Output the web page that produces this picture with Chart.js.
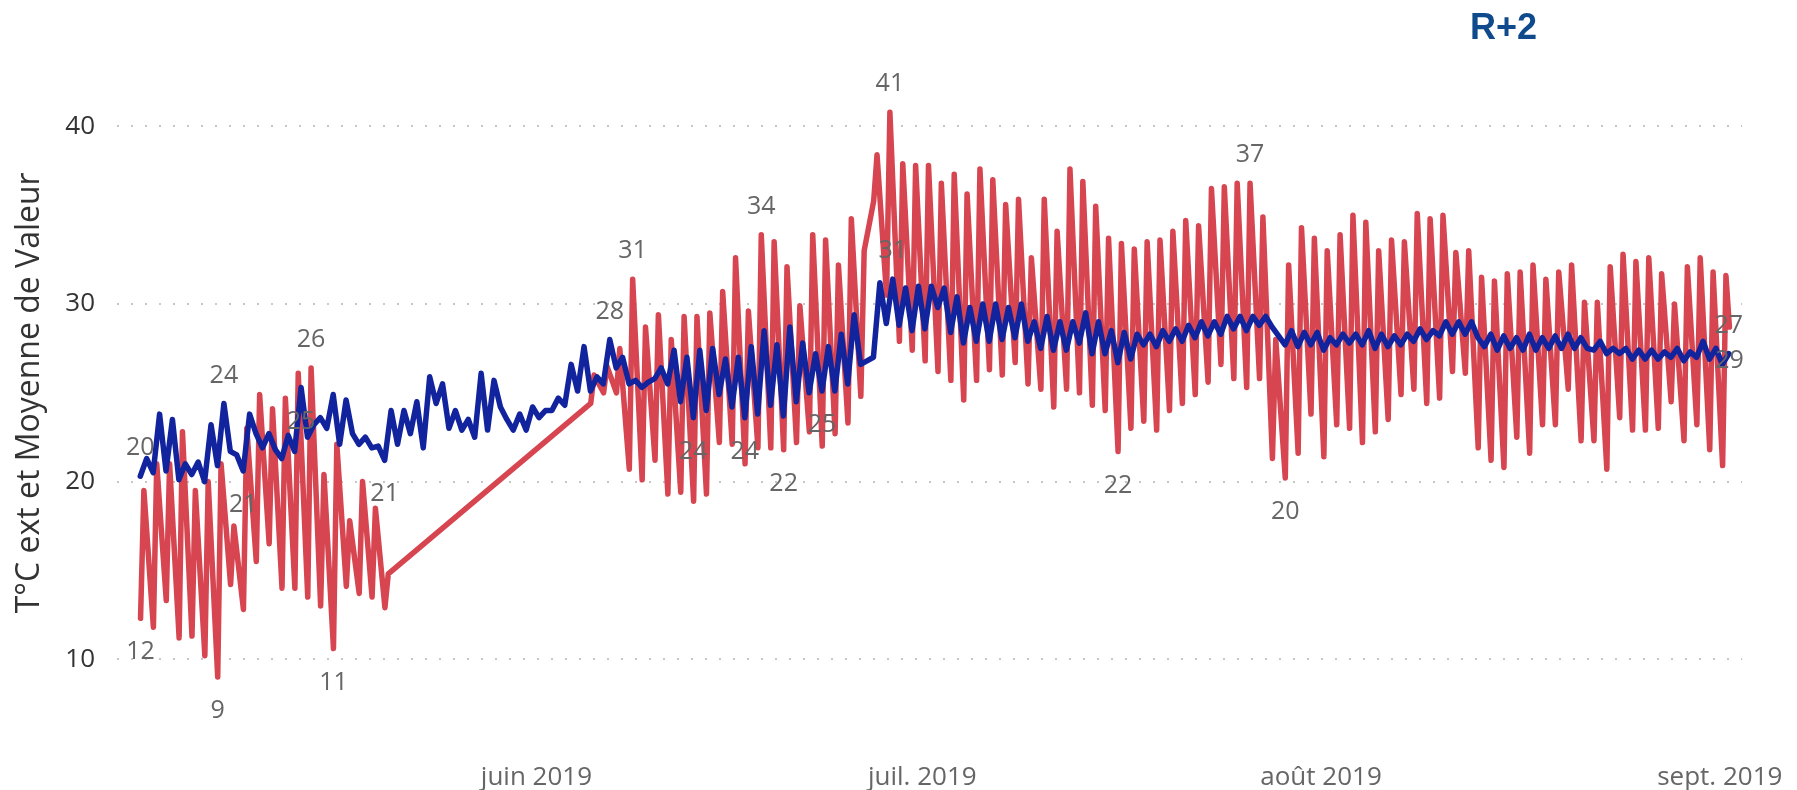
<!DOCTYPE html>
<html>
<head>
<meta charset="utf-8">
<script src="https://cdn.jsdelivr.net/npm/chart.js@4.4.1/dist/chart.umd.min.js"></script>
<style>
html,body{margin:0;padding:0;background:#fff;overflow:hidden}
#wrap{width:1797px;height:790px;position:relative}
</style>
</head>
<body>
<div id="wrap"><canvas id="c" width="1797" height="790"></canvas></div>
<script>
// x = day number, day 0 = 1 May 2019
const monthTicks = [31, 61, 92, 123];
const monthLabels = ['juin 2019', 'juil. 2019', 'août 2019', 'sept. 2019'];
const yTicks = [10, 20, 30, 40];

// T°C ext : daily low (morning) and high (afternoon); null = no reading
const tempMin = [
  12.3, 11.8, 13.3, 11.2, 11.3, 10.2, 9.0, 14.2, 12.8, 15.5,
  16.5, 14.0, 14.0, 13.5, 13.0, 10.6, 14.1, 13.7, 13.5, 12.9,
  null, null, null, null, null, null, null, null, null, null,
  null, null, null, null, null, 24.4, 25.0, 25.0, 20.7, 20.1,
  21.2, 19.3, 19.4, 18.9, 19.3, 22.2, 22.1, 21.0, 21.9, 21.9,
  21.8, 22.2, 22.8, 22.0, 22.7, 23.3, 24.8, 35.8, 30.5, 27.9,
  27.4, 26.8, 26.2, 25.7, 24.6, 25.7, 26.3, 26.0, 26.7, 25.5,
  25.2, 24.2, 25.2, 25.0, 24.3, 24.0, 21.7, 23.0, 23.4, 22.9,
  24.0, 24.4, 24.9, 25.6, 26.6, 25.8, 25.3, 25.8, 21.3, 20.2,
  21.6, 23.8, 21.4, 23.2, 23.0, 22.2, 22.8, 23.5, 24.9, 25.2,
  24.4, 24.7, 26.2, 26.1, 21.9, 21.2, 20.8, 22.5, 21.6, 23.2,
  23.2, 25.2, 22.3, 22.3, 20.7, 23.6, 22.9, 22.9, 23.0, 24.5,
  22.3, 23.2, 21.8, 20.9
];
const tempMax = [
  19.5, 21.0, 21.0, 22.8, 19.5, 20.0, 21.0, 17.5, 23.0, 24.9,
  24.1, 24.7, 26.1, 26.4, 20.4, 22.1, 17.8, 20.0, 18.5, 14.8,
  null, null, null, null, null, null, null, null, null, null,
  null, null, null, null, null, 26.0, 26.5, 27.5, 31.4, 28.7,
  29.4, 28.0, 29.3, 29.3, 29.5, 30.7, 32.6, 29.6, 33.9, 33.5,
  32.1, 29.9, 33.9, 33.6, 32.2, 34.8, 33.0, 38.4, 40.8, 37.9,
  37.8, 37.8, 36.8, 37.3, 36.2, 37.6, 37.0, 35.6, 35.9, 32.6,
  35.9, 34.1, 37.6, 36.9, 35.5, 33.7, 33.4, 33.1, 33.5, 33.6,
  34.1, 34.7, 34.4, 36.5, 36.6, 36.8, 36.8, 34.9, 28.0, 32.2,
  34.3, 33.7, 33.0, 33.9, 35.0, 34.6, 33.0, 33.6, 33.5, 35.1,
  34.8, 35.0, 32.9, 33.0, 31.5, 31.3, 31.7, 31.8, 32.2, 31.4,
  31.8, 32.2, 30.1, 30.1, 32.1, 32.8, 32.4, 32.6, 31.7, 30.0,
  32.1, 32.6, 31.8, 31.6
];
const tempLast = 28.7;

// Moyenne de Valeur : morning and evening readings per day
const avgAM = [
  20.3, 20.5, 20.6, 20.1, 20.4, 20.0, 20.9, 21.7, 20.6, 22.7,
  22.7, 21.3, 21.7, 22.5, 23.6, 24.9, 24.6, 22.1, 21.9, 21.2,
  22.1, 22.7, 21.9, 24.4, 23.0, 22.9, 22.5, 22.9, 24.2, 22.9,
  22.9, 23.6, 24.0, 24.3, 25.1, 25.1, 25.5, 26.4, 25.5, 25.3,
  25.8, 25.5, 24.5, 23.6, 24.0, 24.9, 24.2, 23.6, 23.8, 24.3,
  23.7, 24.5, 25.0, 25.1, 25.1, 25.5, 26.6, 27.0, 28.9, 28.8,
  28.5, 28.6, 29.8, 28.4, 27.8, 27.9, 27.9, 28.0, 28.1, 27.9,
  27.5, 27.4, 27.4, 27.8, 27.2, 27.2, 26.7, 26.9, 27.7, 27.6,
  27.9, 27.9, 28.1, 28.2, 28.3, 28.6, 28.5, 28.8, 28.7, 27.7,
  27.6, 27.7, 27.4, 27.7, 27.8, 27.7, 27.5, 27.6, 27.7, 27.9,
  28.0, 28.2, 28.3, 28.3, 28.1, 28.3, 28.2, 28.1, 28.3, 28.1,
  28.2, 28.3, 28.1, 27.4, 27.2, 27.2, 26.9, 26.9, 26.9, 27.0,
  26.8, 27.0, 26.9, 26.6
];
const avgPM = [
  21.3, 23.8, 23.5, 21.0, 21.1, 23.2, 24.4, 21.5, 23.8, 21.9,
  21.8, 22.6, 25.3, 23.2, 23.0, 22.1, 22.7, 22.5, 22.0, 24.0,
  24.0, 24.5, 25.9, 25.5, 24.0, 23.5, 26.1, 25.7, 23.5, 23.8,
  24.2, 24.0, 24.7, 26.6, 27.6, 25.9, 28.0, 27.0, 25.7, 25.6,
  26.4, 27.4, 27.0, 27.4, 27.5, 26.9, 27.0, 27.6, 28.5, 27.7,
  28.7, 27.8, 27.2, 27.6, 28.3, 29.4, 26.8, 31.2, 31.4, 30.9,
  31.0, 31.0, 30.9, 30.4, 29.8, 30.0, 30.0, 29.8, 30.0, 29.0,
  29.3, 29.0, 29.0, 29.5, 29.0, 28.5, 28.4, 28.3, 28.3, 28.5,
  28.6, 28.8, 29.0, 29.0, 29.3, 29.3, 29.3, 29.3, 28.2, 28.5,
  28.4, 28.4, 28.1, 28.3, 28.3, 28.5, 28.3, 28.2, 28.3, 28.6,
  28.5, 29.0, 29.0, 29.0, 27.6, 27.4, 27.5, 27.4, 27.4, 27.5,
  27.5, 27.5, 27.5, 27.9, 27.5, 27.5, 27.4, 27.4, 27.3, 27.5,
  27.3, 27.9, 27.5, 27.2
];

// points that carry a value label, and on which side
const tempLabelled = [['0A','below'],['6A','below'],['13B','above'],['15A','below'],['38B','above'],['48B','above'],['50A','below'],['58B','above'],['76A','below'],['86B','above'],['89A','below'],['last','below']];
const avgLabelled = [['0A','above'],['6B','above'],['8A','below'],['12B','below'],['19A','below'],['36B','above'],['43A','below'],['47A','below'],['53A','below'],['58B','above'],['123B','above']];

// ---- build datasets from the arrays ----
const redPts = [];
for (let d = 0; d < tempMin.length; d++) {
  if (tempMin[d] != null) redPts.push({x: d + 0.22, y: tempMin[d], key: d + 'A'});
  if (tempMax[d] != null) redPts.push({x: d + 0.48, y: tempMax[d], key: d + 'B'});
}
redPts.push({x: tempMin.length - 1 + 0.75, y: tempLast, key: 'last'});
const bluePts = [];
for (let d = 0; d < avgAM.length; d++) {
  bluePts.push({x: d + 0.2, y: avgAM[d], key: d + 'A'});
  bluePts.push({x: d + 0.7, y: avgPM[d], key: d + 'B'});
}

const FONT = "'Open Sans', 'Noto Sans', sans-serif";

const valueLabels = {
  id: 'valueLabels',
  afterDatasetsDraw(chart) {
    const ctx = chart.ctx;
    ctx.save();
    ctx.font = "25px " + FONT;
    ctx.fillStyle = '#666666';
    ctx.textAlign = 'center';
    ctx.textBaseline = 'middle';
    const offs = {above: -28, below: 34};
    [[0, avgLabelled], [1, tempLabelled]].forEach(([di, list]) => {
      const ds = chart.data.datasets[di];
      const meta = chart.getDatasetMeta(di);
      list.forEach(([key, side]) => {
        const i = ds.data.findIndex(p => p.key === key);
        if (i < 0) return;
        const el = meta.data[i];
        ctx.fillText(String(Math.round(ds.data[i].y)), el.x, el.y + offs[side]);
      });
    });
    ctx.restore();
  }
};

const cornerTitle = {
  id: 'cornerTitle',
  afterDraw(chart) {
    const ctx = chart.ctx;
    ctx.save();
    ctx.font = "bold 36px 'Liberation Sans', Arial, sans-serif";
    ctx.fillStyle = '#0E4A8C';
    ctx.textAlign = 'left';
    ctx.textBaseline = 'alphabetic';
    ctx.fillText('R+2', 1470, 39);
    ctx.restore();
  }
};

new Chart(document.getElementById('c'), {
  type: 'line',
  data: {
    datasets: [
      {
        label: 'Moyenne de Valeur',
        data: bluePts,
        borderColor: '#12239E',
        backgroundColor: '#12239E',
        borderWidth: 5.5,
        pointRadius: 0,
        tension: 0,
        borderJoinStyle: 'round',
        borderCapStyle: 'round'
      },
      {
        label: 'T°C ext',
        data: redPts,
        borderColor: '#D64550',
        backgroundColor: '#D64550',
        borderWidth: 5.5,
        pointRadius: 0,
        tension: 0,
        borderJoinStyle: 'round',
        borderCapStyle: 'round'
      }
    ]
  },
  options: {
    responsive: false,
    animation: false,
    devicePixelRatio: 1,
    layout: {padding: {top: 37, right: 45, left: 0, bottom: 0}},
    plugins: {legend: {display: false}, tooltip: {enabled: false}, title: {display: false}},
    scales: {
      x: {
        type: 'linear',
        min: -1.61,
        max: 124.74,
        afterBuildTicks: s => { s.ticks = monthTicks.map(v => ({value: v})); },
        afterFit: s => { s.height = 42; },
        grid: {display: false, drawTicks: false},
        border: {display: false},
        ticks: {
          autoSkip: false, maxRotation: 0, padding: 14,
          color: '#666666',
          font: {family: FONT, size: 26},
          callback: (v, i) => monthLabels[i]
        }
      },
      y: {
        type: 'linear',
        min: 5,
        max: 45,
        afterBuildTicks: s => { s.ticks = yTicks.map(v => ({value: v})); },
        afterFit: s => { s.width = 117; },
        grid: {color: '#C8C6C4', lineWidth: 2, drawTicks: false},
        border: {display: false, dash: [2, 12]},
        ticks: {padding: 22, color: '#333333', font: {family: FONT, size: 26}},
        title: {
          display: true,
          text: 'T°C ext et Moyenne de Valeur',
          color: '#333333',
          font: {family: FONT, size: 32},
          padding: {top: 11, bottom: 0}
        }
      }
    }
  },
  plugins: [valueLabels, cornerTitle]
});
</script>
</body>
</html>
